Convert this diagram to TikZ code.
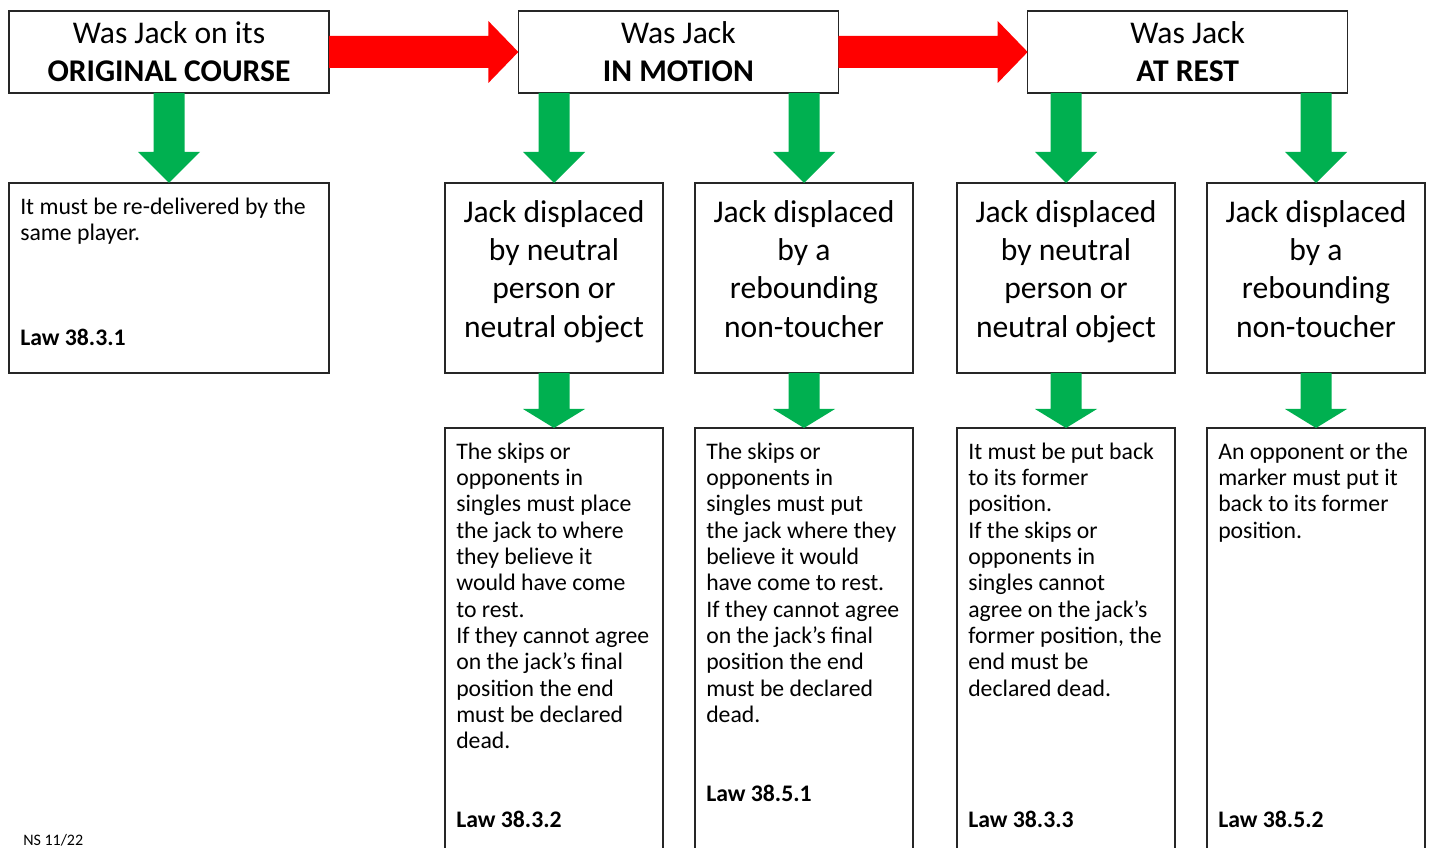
\documentclass[tikz,border=0pt]{standalone}
\usepackage{fontspec}
\setmainfont{Carlito}
\usepackage{xcolor}
\usetikzlibrary{positioning,calc}

\definecolor{gogreen}{RGB}{0,176,80}
\definecolor{stopred}{RGB}{255,0,0}

% block arrows: #1 start, #2 tip, #3 head length
\newcommand{\greenblock}[3]{%
  \fill[gogreen] ($(#1)+(-15.5,0)$) -- ($(#2)+(-15.5,-#3)$) -- ($(#2)+(-31,-#3)$)
    -- (#2) -- ($(#2)+(31,-#3)$) -- ($(#2)+(15.5,-#3)$) -- ($(#1)+(15.5,0)$) -- cycle;}
\newcommand{\redblock}[2]{%
  \fill[stopred] ($(#1)+(0,-16)$) -- ($(#2)+(-30,-16)$) -- ($(#2)+(-30,-31)$)
    -- (#2) -- ($(#2)+(-30,31)$) -- ($(#2)+(-30,16)$) -- ($(#1)+(0,16)$) -- cycle;}

\begin{document}
\begin{tikzpicture}[
  x=0.75pt, y=-0.75pt,
  box/.style={draw=black!85,line width=0.9pt,inner sep=0pt,outer sep=0pt},
  topbox/.style={box,minimum width=240pt,minimum height=61.5pt},
  widebox/.style={box,minimum width=240pt,minimum height=142.5pt},
  midbox/.style={box,minimum width=163.5pt,minimum height=142.5pt},
  lowbox/.style={box,minimum width=163.5pt,minimum height=330pt},
  headtxt/.style={font=\fontsize{23.7pt}{28.7pt}\selectfont,align=center,anchor=north,
    inner sep=0pt,execute at begin node=\strut},
  bodytxt/.style={font=\fontsize{17.8pt}{19.73pt}\selectfont,align=left,anchor=north west,
    inner sep=0pt,execute at begin node=\strut}
    ]
\useasboundingbox (0,0) rectangle (1429,848);
\clip (0,0) rectangle (1429,848);

% boxes
\node[topbox,anchor=north west] (t1) at (9,11) {};
\node[topbox,right=142pt of t1] (t2) {};
\node[topbox,right=142pt of t2] (t3) {};
\node[widebox,below=67.5pt of t1] (r1) {};
\node[midbox,anchor=north west] (m1) at (445,183) {};
\node[midbox,right=24pt of m1] (m2) {};
\node[midbox,right=33pt of m2] (m3) {};
\node[midbox,right=24pt of m3] (m4) {};
\node[lowbox,below=41.25pt of m1] (b1) {};
\node[lowbox,below=41.25pt of m2] (b2) {};
\node[lowbox,below=41.25pt of m3] (b3) {};
\node[lowbox,below=41.25pt of m4] (b4) {};

% arrows
\redblock{t1.east}{t2.west}
\redblock{t2.east}{t3.west}
\greenblock{t1.south}{r1.north}{31}
\greenblock{m1.north |- t2.south}{m1.north}{31}
\greenblock{m2.north |- t2.south}{m2.north}{31}
\greenblock{m3.north |- t3.south}{m3.north}{31}
\greenblock{m4.north |- t3.south}{m4.north}{31}
\greenblock{m1.south}{b1.north}{19}
\greenblock{m2.south}{b2.north}{19}
\greenblock{m3.south}{b3.north}{19}
\greenblock{m4.south}{b4.north}{19}

% texts
\node[headtxt] (t1txt) at ([shift={(0,10.5)}]t1.north) {Was Jack on its\\\textbf{ORIGINAL COURSE}};
\node[headtxt] (t2txt) at ([shift={(0,10.5)}]t2.north) {Was Jack\\\textbf{IN MOTION}};
\node[headtxt] (t3txt) at ([shift={(0,10.5)}]t3.north) {Was Jack\\\textbf{AT REST}};
\node[headtxt] (m1txt) at ([shift={(0,17)}]m1.north) {Jack displaced\\by neutral\\person or\\neutral object};
\node[headtxt] (m2txt) at ([shift={(0,17)}]m2.north) {Jack displaced\\by a\\rebounding\\non-toucher};
\node[headtxt] (m3txt) at ([shift={(0,17)}]m3.north) {Jack displaced\\by neutral\\person or\\neutral object};
\node[headtxt] (m4txt) at ([shift={(0,17)}]m4.north) {Jack displaced\\by a\\rebounding\\non-toucher};

\node[bodytxt] (r1txt) at ([shift={(11,14.5)}]r1.north west)
  {It must be re-delivered by the\\same player.\\[59.2pt]\textbf{Law 38.3.1}};
\node[bodytxt] (b1txt) at ([shift={(11,14.5)}]b1.north west)
  {The skips or\\opponents in\\singles must place\\the jack to where\\they believe it\\would have come\\to rest.\\If they cannot agree\\on the jack’s final\\position the end\\must be declared\\dead.\\[39.46pt]\textbf{Law 38.3.2}};
\node[bodytxt] (b2txt) at ([shift={(11,14.5)}]b2.north west)
  {The skips or\\opponents in\\singles must put\\the jack where they\\believe it would\\have come to rest.\\If they cannot agree\\on the jack’s final\\position the end\\must be declared\\dead.\\[39.46pt]\textbf{Law 38.5.1}};
\node[bodytxt] (b3txt) at ([shift={(11,14.5)}]b3.north west)
  {It must be put back\\to its former\\position.\\If the skips or\\opponents in\\singles cannot\\agree on the jack’s\\former position, the\\end must be\\declared dead.\\[78.92pt]\textbf{Law 38.3.3}};
\node[bodytxt] (b4txt) at ([shift={(11,14.5)}]b4.north west)
  {An opponent or the\\marker must put it\\back to its former\\position.\\[197.3pt]\textbf{Law 38.5.2}};

\node[font=\fontsize{12pt}{14pt}\selectfont,anchor=base west,inner sep=0pt] (ns) at (23,845) {NS 11/22};
\end{tikzpicture}
\end{document}
